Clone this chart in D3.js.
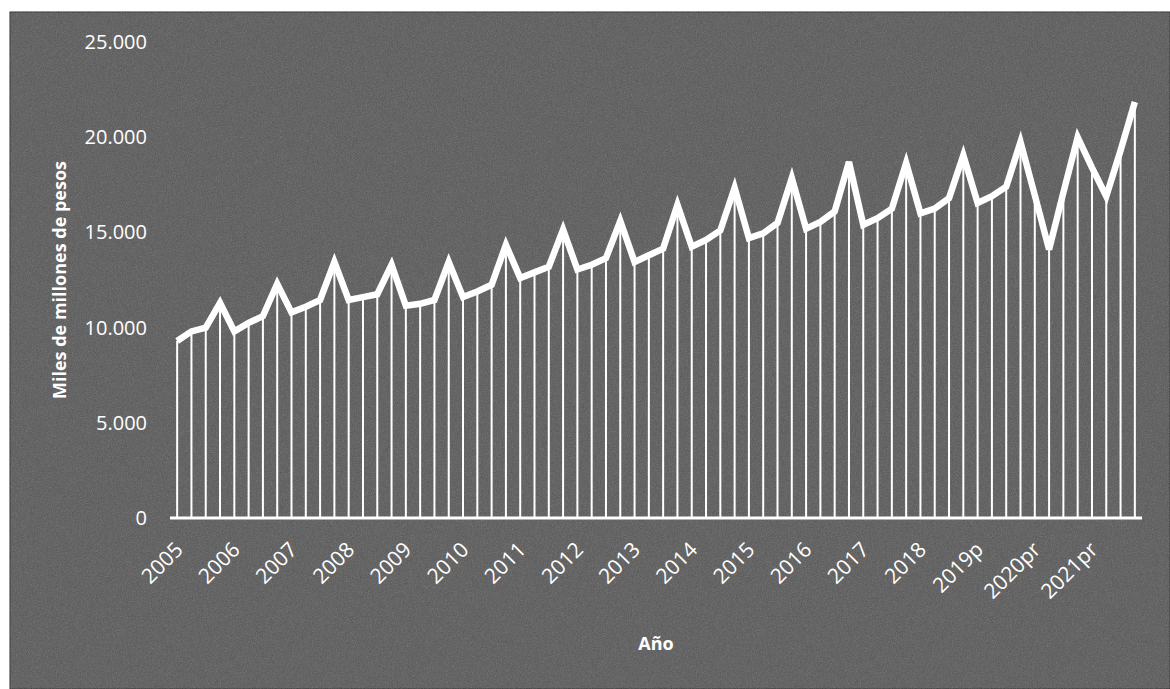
<!DOCTYPE html>
<html>
<head>
<meta charset="utf-8">
<script src="https://cdn.jsdelivr.net/npm/d3@7"></script>
<style>
  body { margin: 0; background: #fff; }
  text { font-family: "Open Sans", Lato, sans-serif; fill: #fff; }
</style>
</head>
<body>
<svg id="mainsvg" width="1170" height="689"></svg>
<script>
// quarterly data, miles de millones de pesos
const years = ['2005','2006','2007','2008','2009','2010','2011','2012','2013',
               '2014','2015','2016','2017','2018','2019p','2020pr','2021pr'];
const quarters = ['T1','T2','T3','T4'];
const values = [
  9300, 9800, 10000, 11300,
  9800, 10250, 10600, 12300,
  10800, 11100, 11450, 13450,
  11450, 11600, 11750, 13300,
  11150, 11250, 11450, 13450,
  11600, 11900, 12250, 14350,
  12600, 12900, 13200, 15150,
  13050, 13300, 13650, 15600,
  13450, 13800, 14150, 16450,
  14250, 14600, 15100, 17350,
  14700, 14950, 15500, 17850,
  15200, 15550, 16100, 18700,
  15400, 15750, 16250, 18650,
  16000, 16250, 16800, 19050,
  16550, 16900, 17400, 19750,
  16950, 14100, 17100, 20000,
  18400, 16900, 19300, 21850
];
const yTicks = [0, 5000, 10000, 15000, 20000, 25000];

const svg = d3.select('#mainsvg');
const width = +svg.attr('width');
const height = +svg.attr('height');

// scanned grey background
const defs = svg.append('defs');
const grain = defs.append('filter').attr('id', 'grain')
  .attr('x', 0).attr('y', 0).attr('width', '100%').attr('height', '100%');
grain.append('feTurbulence').attr('type', 'fractalNoise')
  .attr('baseFrequency', 1.2).attr('numOctaves', 2).attr('seed', 3);
grain.append('feColorMatrix').attr('type', 'saturate').attr('values', 0);

svg.append('rect').attr('x', 10).attr('y', 12)
  .attr('width', width - 10).attr('height', height - 12)
  .attr('fill', '#565656').attr('stroke', '#2a2a2a').attr('stroke-width', 1);
svg.append('rect').attr('x', 10).attr('y', 12)
  .attr('width', width - 10).attr('height', height - 12)
  .attr('filter', 'url(#grain)').attr('opacity', 0.3);

const data = [];
years.forEach((y, i) => quarters.forEach((q, j) => {
  data.push({key: y + '-' + q, year: y, q: q, value: values[i * 4 + j]});
}));

const xScale = d3.scaleBand()
  .domain(data.map(d => d.key))
  .range([170, 1142]);
const yScale = d3.scaleLinear()
  .domain([0, 25000])
  .range([518, 42]);
const cx = d => xScale(d.key) + xScale.bandwidth() / 2;

const fmt = d3.formatLocale({decimal: ',', thousands: '.', grouping: [3], currency: ['$', '']}).format(',d');

// y axis labels
const yAxis = svg.append('g')
  .attr('transform', 'translate(147,0)')
  .call(d3.axisLeft(yScale).tickValues(yTicks).tickFormat(fmt).tickSize(0).tickPadding(0));
yAxis.select('.domain').remove();
yAxis.selectAll('text').style('font-size', '20px').attr('fill', '#fff');

// drop lines
svg.append('g').selectAll('line')
  .data(data)
  .join('line')
  .attr('x1', cx).attr('x2', cx)
  .attr('y1', d => yScale(d.value)).attr('y2', yScale(0))
  .attr('stroke', '#fff').attr('stroke-width', 2);

// zero line
svg.append('line')
  .attr('x1', 170).attr('x2', 1142)
  .attr('y1', yScale(0)).attr('y2', yScale(0))
  .attr('stroke', '#fff').attr('stroke-width', 3);

// main series
const line = d3.line().x(cx).y(d => yScale(d.value));
svg.append('path')
  .datum(data)
  .attr('d', line)
  .attr('fill', 'none')
  .attr('stroke', '#fff')
  .attr('stroke-width', 6.5)
  .attr('stroke-linejoin', 'miter');

// year labels on first quarter
svg.append('g').selectAll('text')
  .data(data.filter(d => d.q === 'T1'))
  .join('text')
  .attr('transform', d => `translate(${cx(d) + 7}, 551) rotate(-45)`)
  .attr('text-anchor', 'end')
  .style('font-size', '21px')
  .text(d => d.year);

// axis titles
svg.append('text')
  .attr('transform', 'translate(66, 280) rotate(-90)')
  .attr('text-anchor', 'middle')
  .style('font-size', '18px').style('font-weight', 'bold')
  .text('Miles de millones de pesos');

svg.append('text')
  .attr('x', 656).attr('y', 650)
  .attr('text-anchor', 'middle')
  .style('font-size', '18px').style('font-weight', 'bold')
  .text('Año');
</script>
</body>
</html>
